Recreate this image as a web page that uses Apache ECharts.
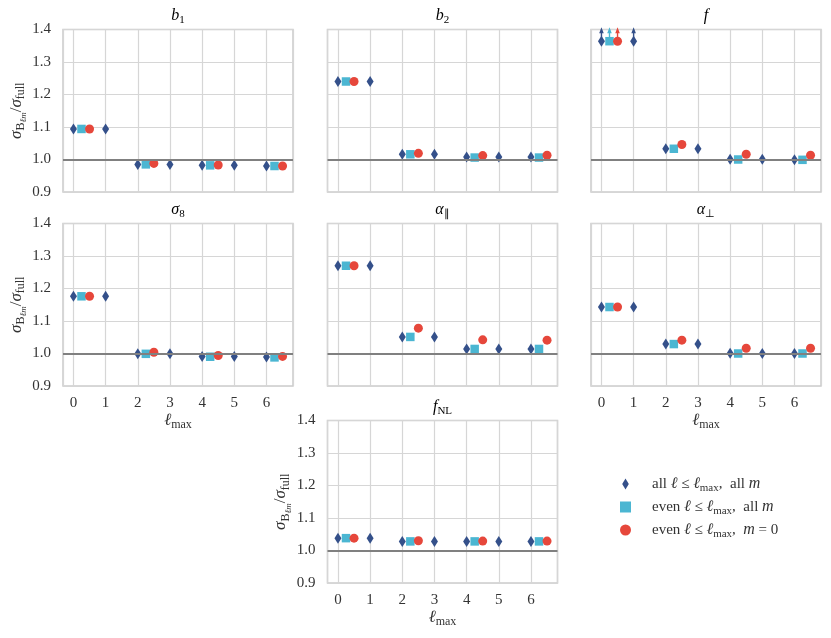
<!DOCTYPE html>
<html>
<head>
<meta charset="utf-8">
<title>sigma ratio vs lmax</title>
<script src="https://cdn.jsdelivr.net/npm/echarts@6/dist/echarts.min.js"></script>
<style>html,body{margin:0;padding:0;background:#fff;}</style>
</head>
<body>
<div id="main" style="width:831px;height:638px;"></div>
<script>
// l_max values (all l, and even l only)
var lmaxAll = [0, 1, 2, 3, 4, 5, 6];
var lmaxEven = [0, 2, 4, 6];

// sigma_Blm / sigma_full
var b1All  = [1.094, 1.094, 0.985, 0.985, 0.982, 0.982, 0.980];
var b1Even = [1.094, 0.985, 0.982, 0.980];
var b1M0   = [1.094, 0.988, 0.983, 0.980];

var b2All  = [1.240, 1.240, 1.016, 1.016, 1.008, 1.008, 1.008];
var b2Even = [1.240, 1.016, 1.006, 1.006];
var b2M0   = [1.240, 1.019, 1.012, 1.013];

var fAll  = [1.364, 1.364, 1.033, 1.033, 1.001, 1.001, 0.999];
var fEven = [1.364, 1.033, 1.000, 0.999];
var fM0   = [1.364, 1.046, 1.016, 1.013];
// points that run off the top of the f panel (l_max values)
var fClipAll  = [0, 1];
var fClipEven = [0];
var fClipM0   = [0];

var s8All  = [1.176, 1.176, 0.999, 0.999, 0.991, 0.991, 0.989];
var s8Even = [1.176, 0.999, 0.990, 0.988];
var s8M0   = [1.176, 1.004, 0.994, 0.991];

var aparAll  = [1.270, 1.270, 1.051, 1.051, 1.014, 1.014, 1.014];
var aparEven = [1.270, 1.051, 1.014, 1.014];
var aparM0   = [1.270, 1.078, 1.042, 1.041];

var aperpAll  = [1.143, 1.143, 1.029, 1.029, 1.001, 1.000, 1.000];
var aperpEven = [1.143, 1.029, 1.000, 1.000];
var aperpM0   = [1.143, 1.041, 1.016, 1.016];

var fnlAll  = [1.038, 1.038, 1.028, 1.028, 1.028, 1.028, 1.028];
var fnlEven = [1.038, 1.028, 1.028, 1.028];
var fnlM0   = [1.038, 1.030, 1.029, 1.029];

var refLine = 1.0;

var FONT = 'Liberation Serif';
var C_ALL = '#34508a', C_EVEN = '#4bb6d2', C_M0 = '#e6473b';
var GRIDC = '#d6d6d6';
var W = 230, H = 162.5;
var arrowPath = 'path://M0 6 L4 0 L8 6 L5.2 6 L5.2 14 L2.8 14 L2.8 6 Z';
var diamondPath = 'path://M3 0 L6 5 L3 10 L0 5 Z';

var panels = [
  {title: '{i|b}{s|1}', all: b1All, even: b1Even, m0: b1M0, left: 63, top: 29.5, yLab: true, xLab: false},
  {title: '{i|b}{s|2}', all: b2All, even: b2Even, m0: b2M0, left: 327.5, top: 29.5, yLab: false, xLab: false},
  {title: '{i|f}', all: fAll, even: fEven, m0: fM0, left: 591, top: 29.5, yLab: false, xLab: false,
   clip: [fClipAll, fClipEven, fClipM0]},
  {title: '{i|σ}{s|8}', all: s8All, even: s8Even, m0: s8M0, left: 63, top: 223.5, yLab: true, xLab: true},
  {title: '{i|α}{s|∥}', all: aparAll, even: aparEven, m0: aparM0, left: 327.5, top: 223.5, yLab: false, xLab: false},
  {title: '{i|α}{s|⊥}', all: aperpAll, even: aperpEven, m0: aperpM0, left: 591, top: 223.5, yLab: false, xLab: true},
  {title: '{i|f}{s|NL}', all: fnlAll, even: fnlEven, m0: fnlM0, left: 327.5, top: 420.5, yLab: true, xLab: true}
];

var richText = {
  i: {fontFamily: FONT, fontStyle: 'italic', fontSize: 16, color: '#333'},
  r: {fontFamily: FONT, fontSize: 15, color: '#333'},
  s: {fontFamily: FONT, fontSize: 11, color: '#333', padding: [9, 0, 0, 0]},
  ss: {fontFamily: FONT, fontStyle: 'italic', fontSize: 8.5, color: '#333', padding: [14, 0, 0, 0]}
};
var nameRich = {
  i: {fontFamily: FONT, fontStyle: 'italic', fontSize: 17, color: '#333'},
  r: {fontFamily: FONT, fontSize: 17, color: '#333'},
  s: {fontFamily: FONT, fontSize: 12, color: '#333', padding: [9, 0, 0, 0]},
  ss: {fontFamily: FONT, fontStyle: 'italic', fontSize: 9, color: '#333', padding: [15, 0, 0, 0]}
};

var grid = [], xAxis = [], yAxis = [], series = [], graphic = [];

panels.forEach(function (p, k) {
  grid.push({left: p.left, top: p.top, width: W, height: H, show: true,
    borderColor: '#cccccc', borderWidth: 1.5, containLabel: false});
  xAxis.push({
    type: 'value', gridIndex: k, min: -0.325, max: 6.825, minInterval: 1, maxInterval: 1,
    axisLine: {show: false}, axisTick: {show: false},
    splitLine: {show: true, lineStyle: {color: GRIDC, width: 1.2}},
    axisLabel: {show: p.xLab, margin: 10, color: '#333', fontFamily: FONT, fontSize: 15,
      showMinLabel: false, showMaxLabel: false,
      formatter: function (v) { return Math.abs(v - Math.round(v)) < 1e-6 ? String(Math.round(v)) : ''; }},
    name: p.xLab ? '{i|ℓ}{s|max}' : '', nameLocation: 'middle', nameGap: 22,
    nameTextStyle: {rich: nameRich}
  });
  yAxis.push({
    type: 'value', gridIndex: k, min: 0.9, max: 1.4, interval: 0.1,
    axisLine: {show: false}, axisTick: {show: false},
    splitLine: {show: true, lineStyle: {color: GRIDC, width: 1.2}},
    axisLabel: {show: p.yLab, margin: 12, color: '#333', fontFamily: FONT, fontSize: 15,
      formatter: function (v) { return v.toFixed(1); }},
    name: p.yLab ? '{i|σ}{s|B}{ss|ℓm}{r|/}{i|σ}{s|full}' : '', nameLocation: 'middle', nameGap: 32,
    nameRotate: 90, nameTextStyle: {rich: nameRich}
  });

  series.push({
    type: 'scatter', name: 'all', xAxisIndex: k, yAxisIndex: k, z: 3, clip: false,
    symbol: 'diamond', symbolSize: [7, 11], itemStyle: {color: C_ALL, opacity: 1},
    data: lmaxAll.map(function (l, j) { return [l, p.all[j]]; }),
    markLine: {silent: true, symbol: 'none', label: {show: false}, z: 4,
      lineStyle: {color: '#808080', width: 2, type: 'solid'},
      data: [{yAxis: refLine}]}
  });
  series.push({
    type: 'scatter', name: 'evenAll', xAxisIndex: k, yAxisIndex: k, z: 3, clip: false,
    symbol: 'rect', symbolSize: 8.5, itemStyle: {color: C_EVEN, opacity: 1},
    data: lmaxEven.map(function (l, j) { return [l + 0.25, p.even[j]]; })
  });
  series.push({
    type: 'scatter', name: 'evenM0', xAxisIndex: k, yAxisIndex: k, z: 3, clip: false,
    symbol: 'circle', symbolSize: 9, itemStyle: {color: C_M0, opacity: 1},
    data: lmaxEven.map(function (l, j) { return [l + 0.5, p.m0[j]]; })
  });

  if (p.clip) {
    var cols = [C_ALL, C_EVEN, C_M0], offs = [0, 0.25, 0.5];
    var srcX = [lmaxAll, lmaxEven, lmaxEven], srcY = [p.all, p.even, p.m0];
    p.clip.forEach(function (list, c) {
      series.push({
        type: 'scatter', xAxisIndex: k, yAxisIndex: k, z: 5, clip: false,
        symbol: arrowPath, symbolKeepAspect: true, symbolSize: [8, 14], symbolOffset: [0, -7],
        itemStyle: {color: cols[c], opacity: 1}, silent: true,
        data: list.map(function (l) {
          return [l + offs[c], srcY[c][srcX[c].indexOf(l)]];
        })
      });
    });
  }

  graphic.push({
    type: 'text', x: p.left + W / 2, y: p.top - 14, silent: true,
    style: {text: p.title, rich: richText, align: 'center', verticalAlign: 'middle'}
  });
});

var legendNames = {
  all: '{g|}{r|all }{i|ℓ}{r| ≤ }{i|ℓ}{s|max}{r|,  all }{i|m}',
  evenAll: '{g|}{r|even }{i|ℓ}{r| ≤ }{i|ℓ}{s|max}{r|,  all }{i|m}',
  evenM0: '{g|}{r|even }{i|ℓ}{r| ≤ }{i|ℓ}{s|max}{r|,  }{i|m}{r| = 0}'
};
var legendRich = Object.assign({g: {width: 16}}, richText);

var myChart = echarts.init(document.getElementById('main'));
myChart.setOption({
  animation: false,
  backgroundColor: '#ffffff',
  grid: grid, xAxis: xAxis, yAxis: yAxis, series: series, graphic: graphic,
  legend: {
    orient: 'vertical', left: 615, top: 471, itemWidth: 11, itemHeight: 11, itemGap: 5,
    selectedMode: false,
    data: [{name: 'all', icon: diamondPath}, {name: 'evenAll', icon: 'rect'}, {name: 'evenM0', icon: 'circle'}],
    formatter: function (n) { return legendNames[n]; },
    textStyle: {fontFamily: FONT, fontSize: 15, color: '#333', rich: legendRich}
  }
});
</script>
</body>
</html>
